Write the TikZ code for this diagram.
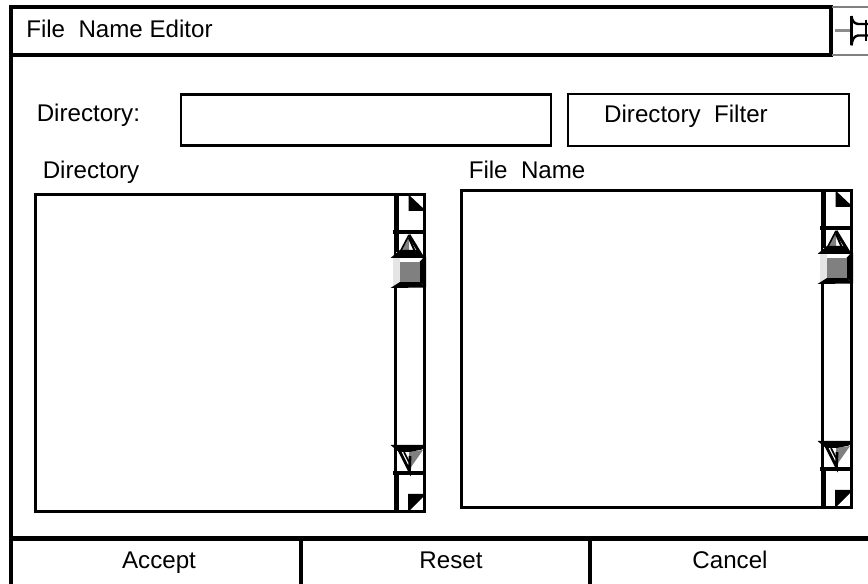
\documentclass[tikz,border=0pt]{standalone}
\usepackage{fontspec}
\setmainfont{Liberation Sans}
\tikzset{
  box/.style={draw=black,line width=2.1pt,fill=white,inner sep=0pt},
  lab/.style={anchor=base west,inner sep=0pt,font=\fontsize{18.1pt}{20pt}\selectfont},
  clab/.style={anchor=base,inner sep=0pt,font=\fontsize{18.1pt}{20pt}\selectfont},
  frameline/.style={draw=black,line width=2.3pt},
  graytrim/.style={draw=black!50,line width=2.2pt},
}
\newcommand{\scrollbar}[2]{%
 \begin{scope}[shift={(#1,#2)}]
  % rails
  \draw[line width=1.8pt] (29.5,0) -- (29.5,318);
  \draw[line width=3.6pt] (2,0) -- (2,58);
  \draw[line width=2.2pt] (1,92) -- (1,280);
  \draw[line width=3.6pt] (2,280) -- (2,318);
  \draw[line width=2pt] (-1,0.5) -- (31,0.5);
  \draw[line width=2pt] (-1,317.5) -- (31,317.5);
  % top page button
  \fill (13.5,0.5) -- (31,17) -- (13.5,17) -- cycle;
  \draw[line width=3.1pt] (-2,38.3) -- (31,38.3);
  % up arrow
  \fill[white] (4,41) rectangle (28,60);
  \fill[black!50] (14,41) -- (3,62) -- (14,62) -- cycle;
  \draw[line width=2.2pt,line join=miter] (14,41) -- (28,64);
  \draw[line width=1.5pt] (14,44) -- (21,60);
  \draw[line width=1.2pt] (14,41) -- (3,62);
  % thumb
  \fill[white] (-1,64) rectangle (28,92);
  \fill[black!10] (-2,64) rectangle (4.5,92);
  \fill (-4.5,64) -- (5,56) -- (23,56) -- (30,64) -- cycle;
  \fill (24.5,68) -- (29,63) -- (31,63) -- (31,93) -- (24.5,88) -- cycle;
  \fill (-4.5,94) -- (5,88) -- (25,88) -- (31,93.5) -- cycle;
  \fill[black!50] (5,68) rectangle (25,88);
  % down arrow
  \fill[white] (3,257) rectangle (28,277);
  \fill[black!50] (14,276) -- (28,256) -- (14,258) -- cycle;
  \draw[line width=2.1pt] (4,256) -- (14.5,277) -- (15,262);
  \draw[line width=1.2pt] (9,258) -- (14,268);
  \fill (-4.5,251) -- (31,251) -- (27,255.5) -- (15,258) -- (4,258) -- cycle;
  \draw[line width=3.1pt] (-2,279.3) -- (31,279.3);
  % bottom page button
  \fill (13,300) -- (31,300) -- (13,318) -- cycle;
 \end{scope}}
\begin{document}
\begin{tikzpicture}[x=0.75pt,y=-0.75pt]
\useasboundingbox (0,0) rectangle (868,584);
\fill[white] (0,0) rectangle (868,584);
% frame
\coordinate (tl) at (11,7);
\coordinate (bl) at (11,584);
\draw[frameline] (tl) -- (bl);
% title bar
\draw[frameline] (11,7) rectangle (831,55);
\draw[graytrim] (832,7) -- (868,7);
\draw[graytrim] (832,55) -- (868,55);
% pin
\draw[black!45,line width=2.2pt] (835,30.5) -- (850,30.5);
\draw[line width=1.8pt,line join=round] (851.5,16) .. controls (852,21) and (854,23.5) .. (858,24) -- (868,24);
\draw[line width=1.8pt,line join=round] (851.5,45.5) .. controls (852,40) and (854,36) .. (858,35.5) -- (868,35.5);
\draw[line width=2.4pt] (851.5,16) -- (851.5,45.5);
\draw[line width=1.8pt] (866,20) -- (866,41);
\node[lab] (title) at (26,37.2) {File\ \ Name Editor};
% upper row
\node[lab] (dirlab) at (36.5,121.8) {Directory:};
\path[box] (181,94.5) rectangle (551,145.5);
\path[box] (568,94) rectangle (849,146);
\node[clab] (filtxt) at (686,122.8) {Directory\ \ Filter};
% labels
\node[lab] (dl) at (42.5,178.2) {Directory};
\node[lab] (fl) at (468.5,178.2) {File\ \ Name};
% lists
\path[box] (35.5,194.5) rectangle (395,511.5);
\path[box] (461.5,190.5) rectangle (822,507.5);
\scrollbar{395}{194}
\scrollbar{822}{190}
% buttons
\draw[line width=3.4pt] (11,538.5) -- (868,538.5);
\draw[frameline] (301,538) -- (301,584);
\draw[frameline] (590,538) -- (590,584);
\node[clab] (acc) at (159,568) {Accept};
\node[clab] (res) at (451,568) {Reset};
\node[clab] (can) at (730,568) {Cancel};
\end{tikzpicture}
\end{document}
